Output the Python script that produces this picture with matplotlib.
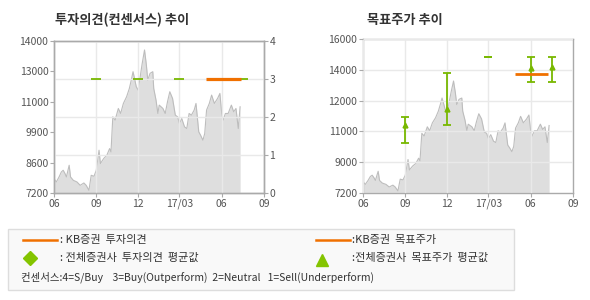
import numpy as np
import pandas as pd
import matplotlib
matplotlib.use('Agg')
import matplotlib.pyplot as plt
from matplotlib.patches import Rectangle
from matplotlib.lines import Line2D

plt.rcParams['font.family'] = ['Noto Sans CJK KR', 'DejaVu Sans']

# Stock price
price_dates = ['2016-06-01', '2016-06-06', '2016-06-12', '2016-06-17', '2016-06-21', '2016-06-25',
               '2016-06-28', '2016-07-04', '2016-07-07', '2016-07-13', '2016-07-21', '2016-07-28',
               '2016-08-05', '2016-08-10', '2016-08-16', '2016-08-21', '2016-08-27', '2016-09-01',
               '2016-09-07', '2016-09-10', '2016-09-17', '2016-09-24', '2016-09-30', '2016-10-03',
               '2016-10-07', '2016-10-12', '2016-10-19', '2016-10-24', '2016-10-30', '2016-11-06',
               '2016-11-12', '2016-11-17', '2016-11-20', '2016-11-24', '2016-11-27', '2016-12-01',
               '2016-12-05', '2016-12-10', '2016-12-15', '2016-12-19', '2016-12-22', '2016-12-27',
               '2017-01-02', '2017-01-04', '2017-01-09', '2017-01-13', '2017-01-16', '2017-01-24',
               '2017-01-29', '2017-02-03', '2017-02-08', '2017-02-14', '2017-02-20', '2017-02-25',
               '2017-03-01', '2017-03-06', '2017-03-12', '2017-03-17', '2017-03-22', '2017-03-27',
               '2017-04-02', '2017-04-06', '2017-04-12', '2017-04-16', '2017-04-21', '2017-04-25',
               '2017-04-29', '2017-05-05', '2017-05-10', '2017-05-16', '2017-05-23', '2017-05-28',
               '2017-06-01', '2017-06-04', '2017-06-09', '2017-06-15', '2017-06-22', '2017-06-27',
               '2017-07-02', '2017-07-07', '2017-07-11']
prices = [7843, 7693, 7918, 8142, 8217, 8067,
          7918, 8441, 7918, 7768, 7693, 7544,
          7649, 7544, 7320, 7992, 7948, 8217,
          9114, 8516, 8740, 8889, 9188, 9039,
          10609, 10459, 10982, 10758, 11207, 11506,
          11879, 12328, 12627, 12253, 11954, 11805,
          12328, 13001, 13599, 12926, 12253, 12552,
          12627, 11879, 11356, 10758, 11132, 10982,
          10758, 11281, 11730, 11431, 10683, 10609,
          10310, 10534, 10160, 10085, 10758, 10683,
          10908, 11207, 9936, 9786, 9562, 9861,
          10908, 11207, 11580, 11207, 11431, 11655,
          10758, 10459, 10758, 10758, 11132, 10833,
          10982, 10085, 11057]

# consensus opinion (all brokers)
cons_dates = ['2016-09-01', '2016-12-01', '2017-03-01', '2017-06-01', '2017-07-17']
cons_opinion = [3, 3, 3, 3, 3]
# KB opinion
kb_dates = ['2017-04-27', '2017-07-12']
kb_opinion = [2.99, 2.99]

# target price consensus
tp_mean = [11100, 12000, 15000, 14350, 14420]
tp_high = [11570, 14030, 15000, 15000, 15000]
tp_low = [10080, 11060, 15000, 13520, 13520]
# KB target price
kb_tp_dates = ['2017-04-27', '2017-07-09']
kb_tp = [14000, 14000]

xticks = ['2016-06-01', '2016-09-01', '2016-12-01', '2017-03-01', '2017-06-01', '2017-09-01']
xticklabels = ['06', '09', '12', '17/03', '06', '09']
left_ylabels = ['7200', '8600', '9900', '11000', '13000', '14000']
right_ylabels = ['7200', '9000', '11000', '12000', '14000', '16000']

orange = '#f07000'
green = '#78b800'
fill_c = '#dedede'
line_c = '#bdbdbd'
grid_c = '#e9e9e9'
spine_c = '#aaaaaa'
text_c = '#555555'

pd_dates = pd.to_datetime(price_dates)
pd_xticks = pd.to_datetime(xticks)

fig = plt.figure(figsize=(5.9, 3.0), dpi=100)


def style_axes(ax):
    for s in ax.spines.values():
        s.set_color(spine_c)
        s.set_linewidth(1)
    ax.tick_params(colors=spine_c, labelcolor=text_c, labelsize=7.5, length=3, width=0.8, pad=1)
    ax.set_xlim(pd_xticks[0], pd_xticks[-1])
    ax.set_xticks(pd_xticks)
    ax.set_xticklabels(xticklabels)


# ---- left chart
ax1 = fig.add_axes([54 / 590, 1 - 193 / 300, 210 / 590, 152 / 300])
ax1.fill_between(pd_dates, prices, 7200, color=fill_c, lw=0, zorder=1)
ax1.plot(pd_dates, prices, color=line_c, lw=0.8, zorder=1.5)
ax1.set_ylim(7200, 14000)
ax1.set_yticks(np.linspace(7200, 14000, 6))
ax1.set_yticklabels(left_ylabels)
style_axes(ax1)
ax1.set_axisbelow(False)
ax1.grid(axis='x', color=grid_c, lw=1)

ax2 = ax1.twinx()
ax2.set_ylim(0, 4)
ax2.set_yticks([0, 1, 2, 3, 4])
style_axes(ax2)
ax2.grid(axis='y', color=grid_c, lw=1, zorder=0)
ax2.plot(pd.to_datetime(cons_dates), cons_opinion, ls='none', marker='_',
         ms=6.5, mew=1.3, color=green, zorder=3)
ax2.plot(pd.to_datetime(kb_dates), kb_opinion, color=orange, lw=2.3, solid_capstyle='butt', zorder=4)

fig.text(55 / 590, 1 - 20 / 300, '투자의견(컨센서스) 추이', fontsize=9.5, fontweight='bold',
         color='#333333', va='center')

# ---- right chart
ax3 = fig.add_axes([363 / 590, 1 - 193 / 300, 210 / 590, 154 / 300])
ax3.fill_between(pd_dates, prices, 7200, color=fill_c, lw=0, zorder=1)
ax3.plot(pd_dates, prices, color=line_c, lw=0.8, zorder=1.5)
ax3.set_ylim(7200, 16000)
ax3.set_yticks(np.linspace(7200, 16000, 6))
ax3.set_yticklabels(right_ylabels)
style_axes(ax3)
ax3.set_axisbelow(False)
ax3.grid(color=grid_c, lw=1)

cd = pd.to_datetime(cons_dates)
mean = np.array(tp_mean)
hi = np.array(tp_high)
lo = np.array(tp_low)
ax3.errorbar(cd, mean, yerr=[mean - lo, hi - mean], fmt='none', ecolor=green,
             elinewidth=1.3, capsize=3, capthick=1.3, zorder=3)
spread = hi > lo
ax3.plot(cd[spread], mean[spread], ls='none', marker='^', ms=3.5, color=green, zorder=4)
ax3.plot(pd.to_datetime(kb_tp_dates), kb_tp, color=orange, lw=2, solid_capstyle='butt', zorder=4)

fig.text(367 / 590, 1 - 20 / 300, '목표주가 추이', fontsize=9.5, fontweight='bold',
         color='#333333', va='center')

# ---- legend box
lg = fig.add_axes([0, 0, 1, 1], zorder=-1)
lg.set_xlim(0, 590)
lg.set_ylim(300, 0)
lg.axis('off')
lg.add_patch(Rectangle((7.5, 228.5), 506, 61, facecolor='#f9f9f9', edgecolor='#dddddd', lw=1))
lg.add_line(Line2D([23, 57], [240, 240], color=orange, lw=1.8))
lg.add_line(Line2D([316, 350], [240, 240], color=orange, lw=1.8))
lg.plot([30], [258], marker='D', ms=7, color='#84c400', ls='none')
lg.plot([322], [260], marker='^', ms=8, color='#84c400', ls='none')
leg_kw = dict(fontsize=8, color='#333333', va='center')
lg.text(60, 240, ': KB증권  투자의견', **leg_kw)
lg.text(60, 258, ': 전체증권사  투자의견  평균값', **leg_kw)
lg.text(352, 240, ':KB증권  목표주가', **leg_kw)
lg.text(352, 258, ':전체증권사  목표주가  평균값', **leg_kw)
lg.text(21, 277, '컨센서스:4=S/Buy    3=Buy(Outperform)  2=Neutral   1=Sell(Underperform)',
        fontsize=7.5, color='#333333', va='center')

fig.savefig('out.png', dpi=100)
